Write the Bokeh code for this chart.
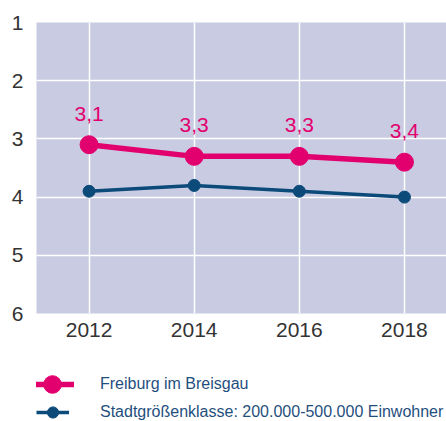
from bokeh.plotting import figure
from bokeh.layouts import column
from bokeh.models import Range1d, FixedTicker, ColumnDataSource, LabelSet, Legend, LegendItem
from bokeh.core.properties import value
from bokeh.embed import file_html
from bokeh.resources import INLINE

years = [2012, 2014, 2016, 2018]
freiburg = [3.1, 3.3, 3.3, 3.4]
klasse = [3.9, 3.8, 3.9, 4.0]
series_names = ["Freiburg im Breisgau", "Stadtgrößenklasse: 200.000-500.000 Einwohner"]
y_ticks = [1, 2, 3, 4, 5, 6]

PINK = "#E2006E"
NAVY = "#0C4A7A"
BG = "#C8CBE1"
FONT = "Liberation Sans"

p = figure(width=446, height=348, output_backend="svg", toolbar_location=None,
           x_range=Range1d(2011, 2018.8), y_range=Range1d(6, 1),
           min_border_left=36, min_border_right=0, min_border_top=22, min_border_bottom=35)
p.background_fill_color = BG
p.border_fill_color = "white"
p.outline_line_color = None

for ax in (p.xaxis[0], p.yaxis[0]):
    ax.axis_line_color = None
    ax.major_tick_line_color = None
    ax.minor_tick_line_color = None
    ax.major_tick_out = 0
    ax.major_tick_in = 0
    ax.major_label_text_font = FONT
    ax.major_label_text_font_size = "21px"
    ax.major_label_text_color = "#333333"
p.xaxis.ticker = FixedTicker(ticks=years)
p.yaxis.ticker = FixedTicker(ticks=y_ticks)
p.xaxis.major_label_standoff = 9
p.yaxis.major_label_standoff = 13

p.xgrid.ticker = FixedTicker(ticks=years)
p.ygrid.ticker = FixedTicker(ticks=y_ticks)
for g in (p.xgrid[0], p.ygrid[0]):
    g.grid_line_color = "white"
    g.grid_line_width = 1.5

src1 = ColumnDataSource(dict(x=years, y=freiburg,
                             lab=[f"{v:.1f}".replace(".", ",") for v in freiburg]))
src2 = ColumnDataSource(dict(x=years, y=klasse))

p.line("x", "y", source=src2, line_color=NAVY, line_width=3.5)
p.scatter("x", "y", source=src2, size=12, fill_color=NAVY, line_color=NAVY)
p.line("x", "y", source=src1, line_color=PINK, line_width=5.5)
p.scatter("x", "y", source=src1, size=18, fill_color=PINK, line_color=PINK)

labels = LabelSet(x="x", y="y", text="lab", source=src1, y_offset=31,
                  text_align="center", text_baseline="middle",
                  text_color=PINK, text_font=value(FONT), text_font_size="21px")
p.add_layout(labels)

# legend panel: same series, ranges set so only the legend shows
lg = figure(width=446, height=73, output_backend="svg", toolbar_location=None,
            x_range=Range1d(0, 1), y_range=Range1d(0, 1),
            x_axis_type=None, y_axis_type=None,
            min_border_left=0, min_border_right=0, min_border_top=0, min_border_bottom=0)
lg.outline_line_color = None
lg.grid.visible = False
ll1 = lg.line("x", "y", source=src1, line_color=PINK, line_width=5.5)
ls1 = lg.scatter("x", "y", source=src1, size=18, fill_color=PINK, line_color=PINK)
ll2 = lg.line("x", "y", source=src2, line_color=NAVY, line_width=3.5)
ls2 = lg.scatter("x", "y", source=src2, size=12, fill_color=NAVY, line_color=NAVY)

common = dict(padding=0, margin=0, border_line_color=None, background_fill_alpha=0,
              label_text_font=FONT, label_text_font_size="16px", label_text_color="#1F4F7E")
leg1 = Legend(items=[LegendItem(label=series_names[0], renderers=[ll1, ls1])],
              location=(-6, 15), glyph_width=44, glyph_height=44, label_standoff=26, **common)
leg2 = Legend(items=[LegendItem(label=series_names[1], renderers=[ll2, ls2])],
              location=(0, -5), glyph_width=33, glyph_height=28, label_standoff=31, **common)
lg.add_layout(leg1)
lg.add_layout(leg2)

layout = column(p, lg, spacing=0)
open("out.html", "w").write(file_html(layout, INLINE))
